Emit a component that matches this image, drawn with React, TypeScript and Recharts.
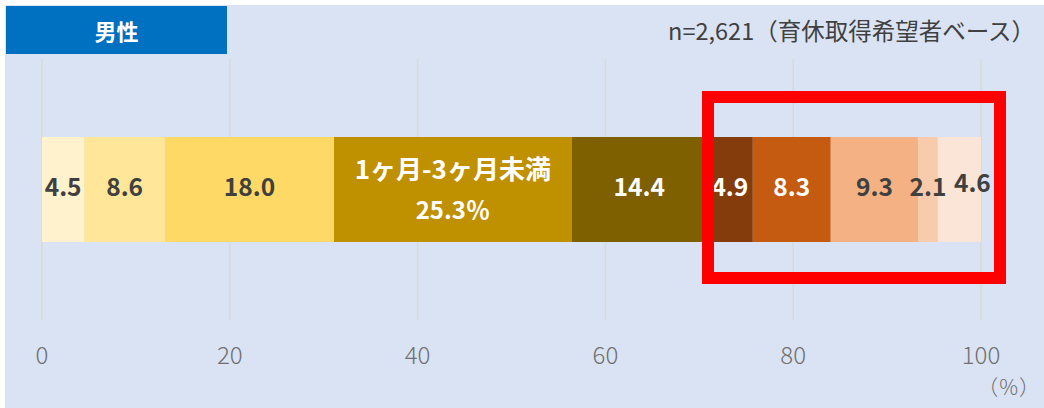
import { BarChart, Bar, XAxis, YAxis, CartesianGrid } from 'recharts';

const categories = ['男性'];
const segmentKeys = ['s1', 's2', 's3', 's4', 's5', 's6', 's7', 's8', 's9', 's10'];
const segmentValues = [4.5, 8.6, 18.0, 25.3, 14.4, 4.9, 8.3, 9.3, 2.1, 4.6];
const segmentColors = [
  '#FFF2CC', '#FFE699', '#FFD966', '#BF9000', '#7F6000',
  '#843C0C', '#C55A11', '#F4B183', '#F8CBAD', '#FBE5D6',
];
const labelColors = [
  '#404040', '#404040', '#404040', '#ffffff', '#ffffff',
  '#ffffff', '#ffffff', '#404040', '#404040', '#404040',
];
const featuredIndex = 3;
const featuredName = '1ヶ月-3ヶ月未満';
const xTicks = [0, 20, 40, 60, 80, 100];

const panelTitle = '男性';
const sampleNote = 'n=2,621（育休取得希望者ベース）';
const unitLabel = '（%）';

const JP = '"Noto Sans CJK JP", "Noto Sans", sans-serif';

// the last two slices are thin, so the final label is pushed a little right
const LAST_NUDGE_X = 13;
const LAST_NUDGE_Y = -4;

const rows = categories.map((name) => {
  const row: Record<string, string | number> = { name };
  segmentKeys.forEach((k, i) => {
    row[k] = segmentValues[i];
  });
  return row;
});

// stacked bars hand the label a cumulative value, so read the segment's own one
const makeLabel = (i: number) => (props: any) => {
  const { x, y, width, height } = props;
  let cx = Number(x) + Number(width) / 2;
  let cy = Number(y) + Number(height) / 2;
  if (i === segmentValues.length - 1) {
    cx += LAST_NUDGE_X;
    cy += LAST_NUDGE_Y;
  }
  const v = segmentValues[i].toFixed(1);
  if (i === featuredIndex) {
    return (
      <text x={cx} y={cy} textAnchor="middle" fill={labelColors[i]} fontFamily={JP} fontWeight={700} fontSize={26}>
        <tspan x={cx} dy={-18} dominantBaseline="middle">{featuredName}</tspan>
        <tspan x={cx} dy={41} dominantBaseline="middle" fontSize={24}>{v}％</tspan>
      </text>
    );
  }
  return (
    <text x={cx} y={cy} textAnchor="middle" dominantBaseline="middle" fill={labelColors[i]} fontFamily={JP} fontWeight={700} fontSize={24.5}>
      {v}
    </text>
  );
};

const AxisTick = (props: any) => {
  const { x, y, payload } = props;
  return (
    <text
      x={x}
      y={Number(y) + 37}
      textAnchor="middle"
      dominantBaseline="middle"
      fill="#6f6f6f"
      fontFamily={JP}
      fontWeight={300}
      fontSize={24}
    >
      {payload.value}
    </text>
  );
};

export default function App() {
  return (
    <div style={{ position: 'absolute', left: 0, top: 0, width: 1044, height: 408, background: '#fff', overflow: 'hidden' }}>
      <div style={{ position: 'absolute', left: 5, top: 5, width: 1039, height: 403, background: '#DAE3F3' }} />
      <div
        style={{
          position: 'absolute', left: 6, top: 6, width: 221, height: 48, background: '#0070C0',
          color: '#fff', fontFamily: JP, fontWeight: 700, fontSize: 22,
          display: 'flex', alignItems: 'center', justifyContent: 'center',
        }}
      >
        {panelTitle}
      </div>
      <div
        style={{
          position: 'absolute', right: 9, top: 14, color: '#404040', fontFamily: JP, fontSize: 23.5,
          lineHeight: '32px', whiteSpace: 'nowrap',
        }}
      >
        {sampleNote}
      </div>
      <div style={{ position: 'absolute', left: 0, top: 0 }}>
        <BarChart
          width={1044}
          height={408}
          data={rows}
          layout="vertical"
          margin={{ top: 59, right: 63, bottom: 58, left: 42 }}
          barSize={105}
        >
          <CartesianGrid horizontal={false} stroke="#d9d9d9" strokeWidth={1.5} />
          <XAxis
            type="number"
            domain={[0, 100]}
            ticks={xTicks}
            axisLine={false}
            tickLine={false}
            tickSize={0}
            tickMargin={0}
            height={30}
            interval={0}
            tick={<AxisTick />}
          />
          <YAxis type="category" dataKey="name" hide />
          {segmentKeys.map((k, i) => (
            <Bar
              key={k}
              dataKey={k}
              stackId="a"
              fill={segmentColors[i]}
              isAnimationActive={false}
              label={makeLabel(i)}
            />
          ))}
        </BarChart>
      </div>
      <div
        style={{
          position: 'absolute', right: 3, top: 371, color: '#6f6f6f', fontFamily: JP, fontWeight: 300,
          fontSize: 21, lineHeight: '30px', letterSpacing: 1, whiteSpace: 'nowrap',
        }}
      >
        {unitLabel}
      </div>
      <div
        style={{
          position: 'absolute', left: 702, top: 91, width: 304, height: 193,
          border: '12px solid #FF0000', boxSizing: 'border-box', pointerEvents: 'none',
        }}
      />
    </div>
  );
}
